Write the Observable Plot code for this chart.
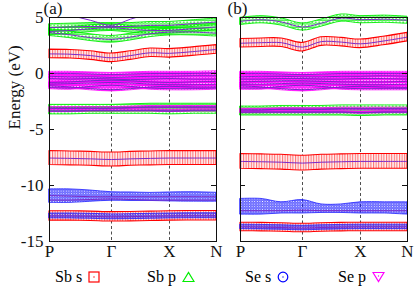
<!DOCTYPE html>
<html><head><meta charset="utf-8">
<script src="https://cdn.jsdelivr.net/npm/d3@7"></script>
<script src="https://cdn.jsdelivr.net/npm/@observablehq/plot@0.6"></script>
<style>
body{margin:0;background:white;}
#wrap{position:relative;width:415px;height:291px;background:white;font-family:"Liberation Serif","Times New Roman",serif;overflow:hidden;}
.leg{position:absolute;top:268px;font-size:16px;line-height:18px;white-space:nowrap;display:flex;align-items:center;}
.leg svg{margin-left:6px;}
svg text{font-family:"Liberation Serif","Times New Roman",serif;}
</style>
</head><body>
<svg width="0" height="0" style="position:absolute">
<defs>
<pattern id="pSbS" width="2.6" height="30" patternUnits="userSpaceOnUse"><rect width="2.6" height="30" fill="#fff0f0"/><line x1="0.6" y1="0" x2="0.6" y2="30" stroke="#ff0000" stroke-width="0.8" stroke-opacity="0.75"/></pattern>
<pattern id="pSbP" width="3.5" height="3.5" patternUnits="userSpaceOnUse"><path d="M0.2,3.2L1.75,0.5L3.3,3.2Z" fill="none" stroke="#00ee00" stroke-width="0.7"/></pattern>
<pattern id="pSeS" width="2.6" height="2.6" patternUnits="userSpaceOnUse"><circle cx="1.3" cy="1.3" r="1.05" fill="none" stroke="#1010ff" stroke-width="0.8"/></pattern>
<pattern id="pSeP" width="3" height="3" patternUnits="userSpaceOnUse"><path d="M0.1,0.4L2.9,0.4L1.5,2.8Z" fill="none" stroke="#ff00ff" stroke-width="1"/></pattern>
</defs></svg>
<div id="wrap">
  <div id="pa" style="position:absolute;left:0;top:0"></div>
  <div id="pb" style="position:absolute;left:230px;top:0"></div>
  <div class="leg" style="left:55px">Sb s<svg width="12" height="12"><rect x="1" y="1" width="10" height="10" fill="none" stroke="#ff0000" stroke-width="1.2"/><circle cx="6" cy="6" r="0.7" fill="#ff0000"/></svg></div>
  <div class="leg" style="left:147px">Sb p<svg width="13" height="12"><path d="M1,10.5L6.5,1.5L12,10.5Z" fill="none" stroke="#00ee00" stroke-width="1.2"/></svg></div>
  <div class="leg" style="left:245px">Se s<svg width="12" height="12"><circle cx="6" cy="6" r="4.8" fill="none" stroke="#0000ff" stroke-width="1.2"/><circle cx="6" cy="6" r="0.7" fill="#0000ff"/></svg></div>
  <div class="leg" style="left:338px">Se p<svg width="13" height="12"><path d="M1,1.5L12,1.5L6.5,10.5Z" fill="none" stroke="#ff00ff" stroke-width="1.2"/><circle cx="6.5" cy="5" r="0.7" fill="#ff00ff"/></svg></div>
</div>
<script>
// k-path sample positions and labels
const K = [0, 21, 41, 62, 81, 101, 120, 143, 167];
const kLabels = ["P", "Γ", "X", "N"];
const kLabelPos = [0, 62, 120, 167];
const eTicks = [5, 0, -5, -10, -15];

// ---- Panel (a) ----
const aSbS = [
  [1.75, 1.72, 1.6, 1.4, 1.6, 1.85, 1.8, 1.95, 2.15],
  [-7.55, -7.58, -7.62, -7.68, -7.62, -7.58, -7.55, -7.55, -7.55],
  [-12.72, -12.72, -12.75, -12.8, -12.78, -12.75, -12.72, -12.7, -12.7]
];
const aSbSw = [0.38, 0.62, 0.42];
const aSbP = [
  [4.1, 4.15, 4.2, 4.2, 4.2, 4.3, 4.3, 4.45, 4.6],
  [3.75, 3.85, 4.0, 4.1, 3.95, 3.85, 3.85, 4.0, 4.15],
  [3.65, 3.45, 3.2, 3.05, 3.25, 3.55, 3.7, 3.7, 3.6],
  [-3.1, -3.1, -3.1, -3.1, -3.05, -3.0, -3.0, -3.0, -3.0],
  [-3.35, -3.35, -3.3, -3.3, -3.3, -3.3, -3.35, -3.3, -3.3]
];
const aSbPw = [0.3, 0.3, 0.3, 0.3, 0.3];
const aSeS = [
  [-10.95, -10.95, -10.95, -10.98, -11.0, -11.02, -11.02, -11.02, -11.05],
  [-12.72, -12.72, -12.75, -12.8, -12.78, -12.75, -12.72, -12.7, -12.7]
];
const aSeSw = [
  [0.6, 0.6, 0.5, 0.38, 0.38, 0.36, 0.4, 0.42, 0.4],
  [0.22, 0.22, 0.22, 0.22, 0.22, 0.22, 0.22, 0.22, 0.22]
];
const aSeP = [
  [0.0, 0.0, -0.05, -0.1, -0.05, 0.0, 0.0, 0.0, 0.05],
  [-0.25, -0.3, -0.3, -0.35, -0.3, -0.25, -0.25, -0.2, -0.2],
  [-0.45, -0.5, -0.45, -0.5, -0.55, -0.5, -0.45, -0.5, -0.5],
  [-0.8, -0.75, -0.65, -0.6, -0.65, -0.75, -0.8, -0.75, -0.7],
  [-0.95, -0.9, -0.85, -0.8, -0.85, -0.95, -1.0, -1.0, -0.95],
  [-1.1, -1.2, -1.35, -1.45, -1.35, -1.2, -1.15, -1.2, -1.2],
  [-1.25, -1.3, -1.15, -1.05, -1.15, -1.3, -1.35, -1.35, -1.3],
  [-3.1, -3.1, -3.1, -3.1, -3.05, -3.0, -3.0, -3.0, -3.0],
  [-3.35, -3.35, -3.3, -3.3, -3.3, -3.3, -3.35, -3.3, -3.3]
];
const aSePw = [0.15, 0.15, 0.15, 0.15, 0.15, 0.15, 0.15, 0.1, 0.1];
const aExtra = [
  [5.8, 5.2, 4.75, 4.3, 4.85, 5.4, 5.9, 6.2, 6.4],
  [-11.3, -11.3, -11.25, -11.2, -11.25, -11.3, -11.3, -11.3, -11.3],
  [-10.9, -10.95, -11.0, -11.0, -11.0, -11.0, -11.0, -11.0, -11.0]
];

// ---- Panel (b) ----
const bSbS = [
  [2.7, 2.75, 2.75, 2.35, 2.85, 2.8, 2.65, 2.9, 3.25],
  [-7.85, -7.88, -7.92, -8.0, -7.92, -7.88, -7.85, -7.85, -7.85],
  [-13.7, -13.72, -13.75, -13.8, -13.75, -13.72, -13.7, -13.7, -13.7]
];
const bSbSw = [0.38, 0.66, 0.38];
const bSbP = [
  [4.65, 4.8, 4.6, 4.15, 4.5, 4.95, 4.8, 4.85, 4.75],
  [-3.25, -3.25, -3.2, -3.2, -3.2, -3.15, -3.15, -3.15, -3.15],
  [-3.45, -3.45, -3.45, -3.45, -3.45, -3.45, -3.5, -3.45, -3.45]
];
const bSbPw = [0.32, 0.3, 0.3];
const bSeS = [
  [-11.9, -11.9, -12.0, -11.9, -12.07, -12.07, -12.0, -12.0, -12.05],
  [-13.7, -13.72, -13.75, -13.8, -13.75, -13.72, -13.7, -13.7, -13.7]
];
const bSeSw = [
  [0.7, 0.7, 0.5, 0.6, 0.38, 0.38, 0.5, 0.5, 0.55],
  [0.2, 0.2, 0.2, 0.2, 0.2, 0.2, 0.2, 0.2, 0.2]
];
const bSeP = [
  [0.0, 0.0, -0.05, -0.1, -0.05, 0.0, 0.0, 0.0, 0.0],
  [-0.3, -0.25, -0.25, -0.3, -0.3, -0.25, -0.25, -0.2, -0.25],
  [-0.5, -0.5, -0.45, -0.45, -0.5, -0.5, -0.45, -0.45, -0.5],
  [-0.75, -0.7, -0.65, -0.65, -0.7, -0.75, -0.75, -0.75, -0.7],
  [-0.95, -0.95, -0.9, -0.85, -0.9, -0.95, -1.0, -1.0, -0.95],
  [-1.1, -1.2, -1.35, -1.45, -1.35, -1.2, -1.15, -1.2, -1.25],
  [-1.3, -1.3, -1.15, -1.05, -1.15, -1.3, -1.35, -1.35, -1.35],
  [-3.25, -3.25, -3.2, -3.2, -3.2, -3.15, -3.15, -3.15, -3.15],
  [-3.45, -3.45, -3.45, -3.45, -3.45, -3.45, -3.5, -3.45, -3.45]
];
const bSePw = [0.15, 0.15, 0.15, 0.15, 0.15, 0.15, 0.15, 0.1, 0.1];
const bExtra = [
  [-12.25, -12.25, -12.25, -12.2, -12.25, -12.25, -12.25, -12.25, -12.25]
];

function rows(tag, bands, widths) {
  const out = [];
  bands.forEach((b, i) => b.forEach((e, j) => {
    const w = widths ? (typeof widths[i] === "number" ? widths[i] : widths[i][j]) : 0;
    out.push({id: tag + i, k: K[j], e, w});
  }));
  return out;
}

const FONT = "Liberation Serif, Times New Roman, serif";

function panel(p) {
  const lineRows = [
    ...rows("s", p.sbS), ...rows("p", p.sbP), ...rows("m", p.seP), ...rows("x", p.extra)
  ];
  const fat = (tag, bands, widths, fill, stroke, sw) =>
    Plot.areaY(rows(tag, bands, widths), {
      x: "k", y1: d => d.e - d.w, y2: d => d.e + d.w, z: "id",
      fill, stroke, strokeWidth: sw, curve: "catmull-rom"
    });
  const marks = [
    Plot.ruleX([kLabelPos[1], kLabelPos[2]], {stroke: "#222", strokeWidth: 0.8, strokeDasharray: "3,2.5"}),
    fat("S", p.sbS, p.sbSw, "url(#pSbS)", "#ff0000", 1.1),
    fat("P", p.sbP, p.sbPw, "url(#pSbP)", "#00ee00", 0.9),
    fat("E", p.seS, p.seSw, "url(#pSeS)", "#2020ff", 0.8),
    fat("M", p.seP, p.sePw, "url(#pSeP)", "#ff00ff", 0.8),
    Plot.line(lineRows, {x: "k", y: "e", z: "id", stroke: "#7a28c8", strokeWidth: 1, curve: "catmull-rom", clip: true}),
    Plot.frame({stroke: "#111", strokeWidth: 1}),
    Plot.tickY(eTicks, {y: d => d, insetRight: 162, stroke: "#111"}),
    Plot.tickY(eTicks, {y: d => d, insetLeft: 162, stroke: "#111"}),
    Plot.axisX({ticks: kLabelPos, tickFormat: d => kLabels[kLabelPos.indexOf(d)], tickSize: 0, tickPadding: 3, fontSize: 17, fontFamily: FONT, label: null}),
    Plot.text([p.tag], {frameAnchor: "top-left", textAnchor: "start", lineAnchor: "bottom", dx: p.tagDx, dy: -4, fontSize: 17, fontFamily: FONT})
  ];
  if (p.yAxis) {
    marks.push(Plot.axisY({ticks: eTicks, tickSize: 0, tickPadding: 6, fontSize: 17, fontFamily: FONT, label: null, tickFormat: d => d < 0 ? "-" + Math.abs(d) : String(d)}));
    marks.push(Plot.text(["Energy (eV)"], {frameAnchor: "left", rotate: -90, dx: -35, fontSize: 17, fontFamily: FONT}));
  }
  return Plot.plot({
    width: p.width, height: 262,
    marginLeft: p.ml, marginRight: p.mr, marginTop: 17, marginBottom: 21,
    x: {domain: [0, 167], axis: null},
    y: {domain: [-15, 5], axis: null},
    style: {background: "transparent", fontFamily: FONT, color: "#111", overflow: "visible"},
    marks
  });
}

document.getElementById("pa").append(panel({
  width: 230, ml: 49, mr: 14, yAxis: true, tag: "(a)", tagDx: -6,
  sbS: aSbS, sbSw: aSbSw, sbP: aSbP, sbPw: aSbPw, seS: aSeS, seSw: aSeSw, seP: aSeP, sePw: aSePw, extra: aExtra
}));
document.getElementById("pb").append(panel({
  width: 185, ml: 10, mr: 8, yAxis: false, tag: "(b)", tagDx: -13,
  sbS: bSbS, sbSw: bSbSw, sbP: bSbP, sbPw: bSbPw, seS: bSeS, seSw: bSeSw, seP: bSeP, sePw: bSePw, extra: bExtra
}));
</script>
</body></html>
